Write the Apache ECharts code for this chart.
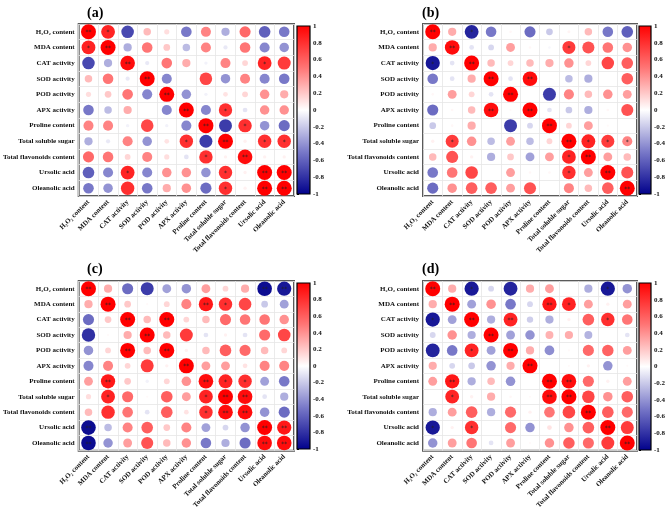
<!DOCTYPE html>
<html>
<head>
<meta charset="utf-8">
<script src="https://cdn.jsdelivr.net/npm/echarts@6/dist/echarts.min.js"></script>
<style>html,body{margin:0;padding:0;background:#fff;}#c{width:669px;height:511px;}</style>
</head>
<body>
<div id="c"></div>
<script>
const variables = ['H₂O₂ content','MDA content','CAT activity','SOD activity','POD activity','APX activity','Proline content','Total soluble sugar','Total flavonoids content','Ursolic acid','Oleanolic acid'];
const panelTitles = ['(a)','(b)','(c)','(d)'];
const colorbarTicks = [-1,-0.8,-0.6,-0.4,-0.2,0,0.2,0.4,0.6,0.8,1];

const corrA = [
  [1, 0.85, -0.7, 0.25, 0.12, -0.5, 0.45, -0.3, 0.55, -0.6, -0.5],
  [0.85, 1, -0.3, 0.5, 0.2, -0.25, 0.45, -0.08, 0.5, -0.45, -0.4],
  [-0.7, -0.3, 0.95, -0.08, 0.5, 0.3, -0.05, 0.45, 0.15, 0.85, 0.75],
  [0.25, 0.5, -0.08, 1, -0.45, 0, 0.7, -0.4, 0.45, -0.45, -0.5],
  [0.12, 0.2, 0.5, -0.45, 1, -0.4, -0.05, 0.1, 0.15, 0.4, 0.3],
  [-0.5, -0.25, 0.3, 0, -0.45, 1, -0.45, 0.8, -0.1, 0.4, 0.4],
  [0.45, 0.45, -0.05, 0.7, -0.05, -0.45, 1, -0.75, 0.8, -0.4, -0.55],
  [-0.3, -0.08, 0.45, -0.4, 0.1, 0.8, -0.75, 1, 0.05, 0.8, 0.8],
  [0.55, 0.5, 0.15, 0.45, 0.12, -0.1, 0.8, 0.05, 0.95, 0.05, 0.05],
  [-0.6, -0.45, 0.85, -0.45, 0.4, 0.4, -0.4, 0.8, 0.05, 1, 1],
  [-0.5, -0.4, 0.8, -0.5, 0.3, 0.4, -0.55, 0.8, 0.05, 1, 1]
];
const sigA = ['21000000000','12000000000','00200000010','00020000000','00002000000','00000201000','00000020100','00000102011','00000010200','00100001022','00000001022'];

const corrB = [
  [1, 0.3, -0.85, -0.5, 0.03, -0.55, -0.2, 0.04, 0.25, -0.5, -0.6],
  [0.3, 0.95, -0.1, -0.15, 0.35, 0.03, -0.03, 0.75, 0.65, 0.5, 0.4],
  [-0.9, -0.1, 1, 0.25, 0.15, 0.25, 0.3, 0.4, 0.15, 0.7, 0.6],
  [-0.5, -0.1, 0.3, 1, -0.1, 0.95, 0, -0.25, -0.3, 0, 0.6],
  [0.03, 0.35, 0.15, -0.1, 1, 0, -0.75, 0.45, 0.25, 0.4, 0.35],
  [-0.55, 0.03, 0.25, 0.95, 0.02, 1, -0.1, -0.2, -0.3, 0.03, 0.65],
  [-0.2, 0.03, 0.3, 0, -0.75, -0.15, 1, 0.15, 0.35, 0.02, 0],
  [0.05, 0.75, 0.4, -0.25, 0.35, -0.25, 0.15, 1, 0.85, 0.75, 0.45],
  [0.25, 0.65, 0.05, -0.3, 0.2, -0.35, 0.35, 0.85, 1, 0.35, 0.25],
  [-0.5, 0.5, 0.7, 0, 0.35, 0.03, 0.03, 0.8, 0.35, 1, 0.65],
  [-0.55, 0.4, 0.6, 0.6, 0.35, 0.65, 0, 0.45, 0.25, 0.6, 1]
];
const sigB = ['20100000000','02000001000','10200000000','00020200000','00002000000','00020200000','00000020000','01000002111','00000001200','00000001020','00000000002'];

const corrC = [
  [1, 0.3, -0.55, -0.75, -0.35, -0.4, 0.35, 0.15, 0.3, -0.95, -0.9],
  [0.3, 1, 0.2, 0.02, 0.15, 0.45, 0.9, 0.8, 0.7, -0.2, -0.35],
  [-0.55, 0.2, 1, 0.25, 1, 0.15, 0.25, 0.55, 0.5, 0.5, 0.4],
  [-0.8, 0.02, 0.3, 1, 0.25, 0.75, -0.1, 0.05, -0.1, 0.55, 0.7],
  [-0.4, 0.15, 1, 0.25, 1, 0.05, 0.25, 0.6, 0.55, 0.25, 0.15],
  [-0.45, 0.45, 0.15, 0.75, 0.05, 1, 0.35, 0.35, 0.1, 0.45, 0.45],
  [0.35, 0.9, 0.2, -0.05, 0.15, 0.4, 0.95, 0.85, 0.8, -0.35, -0.5],
  [0.12, 0.85, 0.55, 0.02, 0.6, 0.35, 0.85, 1, 0.95, -0.1, -0.3],
  [0.25, 0.8, 0.5, -0.1, 0.6, 0.1, 0.8, 0.95, 0.95, -0.4, -0.55],
  [-0.95, -0.25, 0.45, 0.6, 0.2, 0.45, -0.35, -0.15, -0.4, 1, 0.9],
  [-0.95, -0.4, 0.35, 0.65, 0.25, 0.4, -0.5, -0.3, -0.55, 0.95, 0.95]
];
const sigC = ['20000000022','02000021000','00202000000','00020000000','00202000000','00000200000','02000021100','01000012200','00000012200','20000000022','20000000022'];

const corrD = [
  [1, 0.3, -0.9, -0.15, -0.85, 0.3, 0.35, 0, -0.3, -0.9, -0.4],
  [0.3, 1, -0.35, 0.4, -0.5, -0.15, 0.9, 0.85, 0.35, 0.05, 0.35],
  [-0.9, -0.35, 1, -0.3, 0.85, -0.18, -0.3, 0.05, 0.6, 0.8, 0.5],
  [-0.15, 0.4, -0.3, 1, -0.35, -0.4, 0.28, 0.3, -0.28, 0, -0.1],
  [-0.85, -0.5, 0.85, -0.35, 1, 0.3, -0.42, 0.02, 0.55, 0.58, 0.35],
  [0.3, -0.15, -0.2, -0.4, 0.3, 1, 0, 0.02, 0.05, -0.4, 0.02],
  [0.35, 0.9, -0.3, 0.25, -0.4, 0, 1, 0.95, 0.55, 0.05, 0.35],
  [0, 0.85, 0.05, 0.3, 0.03, 0.02, 0.95, 1, 0.7, 0.4, 0.6],
  [-0.3, 0.35, 0.6, -0.3, 0.55, 0.05, 0.5, 0.7, 1, 0.6, 0.55],
  [-0.9, 0.05, 0.8, 0, 0.55, -0.4, 0.1, 0.4, 0.6, 1, 0.75],
  [-0.4, 0.35, 0.5, -0.1, 0.35, 0.02, 0.4, 0.6, 0.55, 0.75, 1]
];
const sigD = ['20100000010','02000021000','10202000010','00020000000','00102000000','00000200000','02000022000','01000022000','00000000200','10100000020','00000000002'];

const panels = [
  {corr: corrA, sig: sigA, grid: {left: 75, top: 24, width: 219, height: 172}, bar: {left: 297, top: 26, width: 13, height: 168}, title: {left: 82, top: 1}},
  {corr: corrB, sig: sigB, grid: {left: 423, top: 24, width: 214, height: 172}, bar: {left: 639, top: 26, width: 12, height: 168}, title: {left: 417, top: 1}},
  {corr: corrC, sig: sigC, grid: {left: 75, top: 281, width: 219, height: 170}, bar: {left: 297, top: 283, width: 13, height: 166}, title: {left: 82, top: 257}},
  {corr: corrD, sig: sigD, grid: {left: 423, top: 281, width: 214, height: 170}, bar: {left: 639, top: 283, width: 12, height: 167}, title: {left: 417, top: 257}}
];

const colorStops = ['#00008B', '#7878C8', '#FFFFFF', '#FF7575', '#FF0000'];
const FONT = 'Liberation Serif';

const grids = [], xAxes = [], yAxes = [], series = [], titles = [];
panels.forEach((p, k) => {
  grids.push(Object.assign({show: true, borderColor: '#5a5a5a', borderWidth: 2, backgroundColor: 'transparent'}, p.grid));
  xAxes.push({
    type: 'category', gridIndex: k, data: variables,
    axisLine: {show: false}, axisTick: {show: false},
    splitLine: {show: true, interval: 0, lineStyle: {color: '#e6e6e6', width: 0.8}},
    axisLabel: {interval: 0, rotate: 45, margin: 5, fontFamily: FONT, fontWeight: 'bold', fontSize: 7, color: '#111'}
  });
  yAxes.push({
    type: 'category', gridIndex: k, data: variables, inverse: true,
    axisLine: {show: false}, axisTick: {show: false},
    splitLine: {show: true, interval: 0, lineStyle: {color: '#e6e6e6', width: 0.8}},
    axisLabel: {interval: 0, margin: 4, fontFamily: FONT, fontWeight: 'bold', fontSize: 7, color: '#111'}
  });
  const data = [];
  p.corr.forEach((row, i) => row.forEach((v, j) => {
    const n = +p.sig[i][j];
    data.push({value: [j, i, v], stars: n ? '*'.repeat(n) : ''});
  }));
  series.push({
    type: 'scatter', xAxisIndex: k, yAxisIndex: k, data: data,
    symbol: 'circle',
    symbolSize: v => 15 * Math.sqrt(Math.abs(v[2])),
    itemStyle: {opacity: 1},
    label: {show: true, position: 'inside', formatter: prm => prm.data.stars, fontSize: 6, color: '#222', fontFamily: 'DejaVu Sans', offset: [0, 1]},
    emphasis: {disabled: true}, z: 3
  });
  titles.push({text: panelTitles[k], left: p.title.left, top: p.title.top, textStyle: {fontFamily: FONT, fontWeight: 'bold', fontSize: 14, color: '#000'}});
});

// colorbars
panels.forEach((p, k) => {
  const gi = grids.length;
  grids.push(Object.assign({show: false}, p.bar));
  xAxes.push({type: 'value', gridIndex: gi, min: 0, max: 1, show: false});
  yAxes.push({
    type: 'value', gridIndex: gi, min: -1, max: 1, interval: 0.2, position: 'right',
    axisLine: {show: false}, splitLine: {show: false},
    axisTick: {show: true, length: 2, lineStyle: {color: '#000', width: 1}},
    axisLabel: {margin: 3, fontFamily: FONT, fontWeight: 'bold', fontSize: 7, color: '#111',
      formatter: v => { const r = Math.round(v * 10) / 10; return colorbarTicks.indexOf(r) >= 0 ? String(r) : ''; }}
  });
  series.push({
    type: 'custom', xAxisIndex: gi, yAxisIndex: gi, data: [[0, -1, 1, 1]], silent: true,
    renderItem: (params, api) => {
      const p0 = api.coord([0, -1]);
      const p1 = api.coord([1, 1]);
      const stops = colorStops.slice().reverse().map((c, i) => ({offset: i / (colorStops.length - 1), color: c}));
      return {type: 'rect', shape: {x: p0[0], y: p1[1], width: p1[0] - p0[0], height: p0[1] - p1[1]},
        style: {fill: new echarts.graphic.LinearGradient(0, 0, 0, 1, stops), stroke: '#000', lineWidth: 1.2}};
    }
  });
});

const chart = echarts.init(document.getElementById('c'), null, {renderer: 'canvas'});
chart.setOption({
  animation: false,
  backgroundColor: '#fff',
  title: titles,
  grid: grids, xAxis: xAxes, yAxis: yAxes,
  visualMap: {type: 'continuous', show: false, min: -1, max: 1, dimension: 2, seriesIndex: [0, 1, 2, 3], inRange: {color: colorStops}},
  series: series
});
</script>
</body>
</html>
